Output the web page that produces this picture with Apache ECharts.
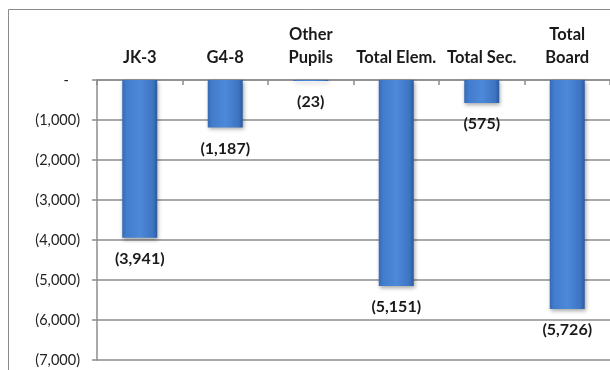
<!DOCTYPE html>
<html><head><meta charset="utf-8">
<script src="https://cdn.jsdelivr.net/npm/echarts@6/dist/echarts.min.js"></script>
<style>html,body{margin:0;padding:0;background:#fff}#c{width:610px;height:370px}</style>
</head><body><div id="c"></div>
<script>
const categories = ['JK-3', 'G4-8', 'Other\nPupils', 'Total Elem.', 'Total Sec.', 'Total\nBoard'];
const values = [-3941, -1187, -23, -5151, -575, -5726];
const yTicks = { min: -7000, max: 0, interval: 1000 };

function fmt(v) {
  if (v === 0) return '-   ';
  return '(' + Math.abs(v).toLocaleString('en-US') + ')';
}

const chart = echarts.init(document.getElementById('c'), null, { renderer: 'canvas' });
chart.setOption({
  animation: false,
  backgroundColor: '#fff',
  graphic: [{
    type: 'rect', shape: { x: 8.5, y: 9.5, width: 700, height: 500 },
    style: { fill: 'none', stroke: '#8a8a8a', lineWidth: 1 }, z: -1
  }],
  grid: { left: 97, right: -6, top: 80, bottom: 10 },
  xAxis: {
    type: 'category', data: categories, position: 'top',
    axisLine: { show: true, lineStyle: { color: '#8c8c8c', width: 1.5 } },
    axisTick: { show: true, inside: true, length: 5, lineStyle: { color: '#8c8c8c', width: 1.5 } },
    axisLabel: { margin: 11, fontFamily: 'Lato', fontWeight: 'bold', fontSize: 16.5, color: '#1a1a1a', lineHeight: 23, interval: 0 }
  },
  yAxis: {
    type: 'value', min: yTicks.min, max: yTicks.max, interval: yTicks.interval,
    axisLine: { show: true, lineStyle: { color: '#8c8c8c', width: 1.5 } },
    axisTick: { show: true, length: 5, lineStyle: { color: '#8c8c8c', width: 1.5 } },
    splitLine: { show: true, lineStyle: { color: '#8c8c8c', width: 1.5 } },
    axisLabel: { margin: 17, fontFamily: 'Lato', fontSize: 14.5, color: '#222', formatter: fmt }
  },
  series: [{
    type: 'bar', data: values, barWidth: 35,
    itemStyle: {
      color: new echarts.graphic.LinearGradient(0, 0, 1, 0, [
        { offset: 0, color: '#3769b4' },
        { offset: 0.12, color: '#427ccc' },
        { offset: 0.5, color: '#4d89d9' },
        { offset: 0.88, color: '#3d74c2' },
        { offset: 1, color: '#2d5a9c' }
      ]),
      shadowColor: 'rgba(0,0,0,0.35)', shadowBlur: 4, shadowOffsetX: 1, shadowOffsetY: 2
    },
    label: {
      show: true, position: 'bottom', distance: 13,
      fontFamily: 'Lato', fontWeight: 'bold', fontSize: 16, color: '#1a1a1a',
      formatter: p => fmt(p.value)
    }
  }]
});
</script></body></html>
